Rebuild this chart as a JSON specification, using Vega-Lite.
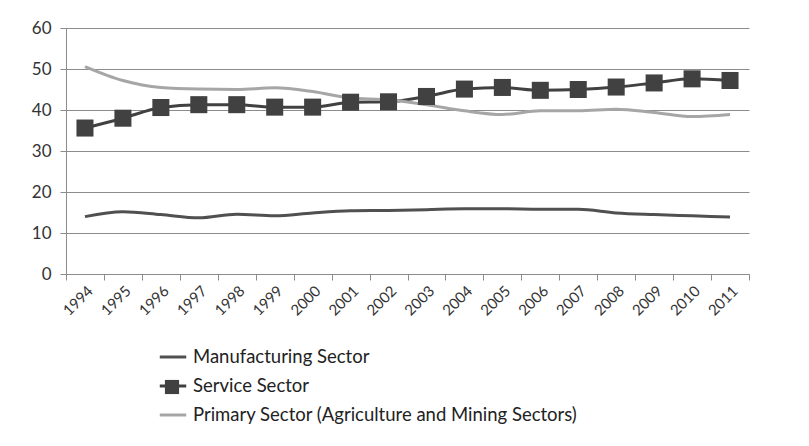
{
  "$schema": "https://vega.github.io/schema/vega-lite/v6.json",
  "width": 683,
  "height": 246,
  "autosize": {"type": "none"},
  "padding": {"left": 66, "top": 28, "right": 60, "bottom": 172},
  "background": "white",
  "config": {"view": {"stroke": null}, "font": "Lato"},
  "data": {"values": [
    {"year": "1994", "series": "Manufacturing Sector", "value": 14.0},
    {"year": "1995", "series": "Manufacturing Sector", "value": 15.2},
    {"year": "1996", "series": "Manufacturing Sector", "value": 14.5},
    {"year": "1997", "series": "Manufacturing Sector", "value": 13.7},
    {"year": "1998", "series": "Manufacturing Sector", "value": 14.6},
    {"year": "1999", "series": "Manufacturing Sector", "value": 14.2},
    {"year": "2000", "series": "Manufacturing Sector", "value": 14.9},
    {"year": "2001", "series": "Manufacturing Sector", "value": 15.4},
    {"year": "2002", "series": "Manufacturing Sector", "value": 15.5},
    {"year": "2003", "series": "Manufacturing Sector", "value": 15.7},
    {"year": "2004", "series": "Manufacturing Sector", "value": 15.9},
    {"year": "2005", "series": "Manufacturing Sector", "value": 15.9},
    {"year": "2006", "series": "Manufacturing Sector", "value": 15.8},
    {"year": "2007", "series": "Manufacturing Sector", "value": 15.8},
    {"year": "2008", "series": "Manufacturing Sector", "value": 14.9},
    {"year": "2009", "series": "Manufacturing Sector", "value": 14.5},
    {"year": "2010", "series": "Manufacturing Sector", "value": 14.2},
    {"year": "2011", "series": "Manufacturing Sector", "value": 13.9},
    {"year": "1994", "series": "Service Sector", "value": 35.6},
    {"year": "1995", "series": "Service Sector", "value": 38.0},
    {"year": "1996", "series": "Service Sector", "value": 40.6},
    {"year": "1997", "series": "Service Sector", "value": 41.3},
    {"year": "1998", "series": "Service Sector", "value": 41.3},
    {"year": "1999", "series": "Service Sector", "value": 40.7},
    {"year": "2000", "series": "Service Sector", "value": 40.7},
    {"year": "2001", "series": "Service Sector", "value": 41.9},
    {"year": "2002", "series": "Service Sector", "value": 42.0},
    {"year": "2003", "series": "Service Sector", "value": 43.3},
    {"year": "2004", "series": "Service Sector", "value": 45.1},
    {"year": "2005", "series": "Service Sector", "value": 45.5},
    {"year": "2006", "series": "Service Sector", "value": 44.8},
    {"year": "2007", "series": "Service Sector", "value": 45.0},
    {"year": "2008", "series": "Service Sector", "value": 45.6},
    {"year": "2009", "series": "Service Sector", "value": 46.6},
    {"year": "2010", "series": "Service Sector", "value": 47.6},
    {"year": "2011", "series": "Service Sector", "value": 47.2},
    {"year": "1994", "series": "Primary Sector (Agriculture and Mining Sectors)", "value": 50.6},
    {"year": "1995", "series": "Primary Sector (Agriculture and Mining Sectors)", "value": 47.2},
    {"year": "1996", "series": "Primary Sector (Agriculture and Mining Sectors)", "value": 45.5},
    {"year": "1997", "series": "Primary Sector (Agriculture and Mining Sectors)", "value": 45.1},
    {"year": "1998", "series": "Primary Sector (Agriculture and Mining Sectors)", "value": 45.0},
    {"year": "1999", "series": "Primary Sector (Agriculture and Mining Sectors)", "value": 45.4},
    {"year": "2000", "series": "Primary Sector (Agriculture and Mining Sectors)", "value": 44.5},
    {"year": "2001", "series": "Primary Sector (Agriculture and Mining Sectors)", "value": 42.9},
    {"year": "2002", "series": "Primary Sector (Agriculture and Mining Sectors)", "value": 42.5},
    {"year": "2003", "series": "Primary Sector (Agriculture and Mining Sectors)", "value": 41.3},
    {"year": "2004", "series": "Primary Sector (Agriculture and Mining Sectors)", "value": 39.8},
    {"year": "2005", "series": "Primary Sector (Agriculture and Mining Sectors)", "value": 38.9},
    {"year": "2006", "series": "Primary Sector (Agriculture and Mining Sectors)", "value": 39.8},
    {"year": "2007", "series": "Primary Sector (Agriculture and Mining Sectors)", "value": 39.8},
    {"year": "2008", "series": "Primary Sector (Agriculture and Mining Sectors)", "value": 40.2},
    {"year": "2009", "series": "Primary Sector (Agriculture and Mining Sectors)", "value": 39.4},
    {"year": "2010", "series": "Primary Sector (Agriculture and Mining Sectors)", "value": 38.4},
    {"year": "2011", "series": "Primary Sector (Agriculture and Mining Sectors)", "value": 38.9}
  ]},
  "encoding": {
    "x": {
      "field": "year", "type": "ordinal",
      "scale": {"type": "band", "paddingInner": 0, "paddingOuter": 0},
      "axis": {
        "title": null, "grid": false, "tickBand": "extent",
        "domainColor": "#8c8c8c", "tickColor": "#8c8c8c", "tickSize": 6,
        "labelAngle": -45, "labelFontSize": 15, "labelColor": "#333333", "labelPadding": 3
      }
    },
    "y": {
      "field": "value", "type": "quantitative",
      "scale": {"domain": [0, 60]},
      "axis": {
        "title": null, "values": [0, 10, 20, 30, 40, 50, 60],
        "gridColor": "#8c8c8c", "gridWidth": 1, "domainColor": "#8c8c8c",
        "tickColor": "#8c8c8c", "tickSize": 6,
        "labelFontSize": 17, "labelColor": "#333333", "labelPadding": 9
      }
    }
  },
  "layer": [
    {
      "mark": {"type": "line", "strokeWidth": 3, "interpolate": "monotone"},
      "encoding": {
        "color": {
          "field": "series", "type": "nominal",
          "scale": {
            "domain": ["Manufacturing Sector", "Service Sector", "Primary Sector (Agriculture and Mining Sectors)"],
            "range": ["#505050", "#414141", "#a6a6a6"]
          },
          "legend": {
            "title": null, "orient": "none", "legendX": 92, "legendY": 314,
            "symbolType": "stroke", "symbolStrokeWidth": 3, "symbolSize": 700,
            "labelFontSize": 18.5, "labelColor": "#222222", "labelOffset": 5,
            "rowPadding": 4, "labelLimit": 600
          }
        }
      }
    },
    {
      "transform": [{"filter": "datum.series === 'Service Sector'"}],
      "mark": {"type": "point", "filled": true, "opacity": 1, "size": 290, "color": "#414141"},
      "encoding": {
        "shape": {
          "field": "series", "type": "nominal",
          "scale": {"domain": ["Service Sector"], "range": ["square"]},
          "legend": {
            "title": null, "orient": "none", "legendX": 98, "legendY": 351,
            "symbolSize": 200, "symbolFillColor": "#414141", "symbolStrokeColor": "#414141",
            "labelExpr": "''", "symbolOpacity": 1
          }
        }
      }
    }
  ]
}
